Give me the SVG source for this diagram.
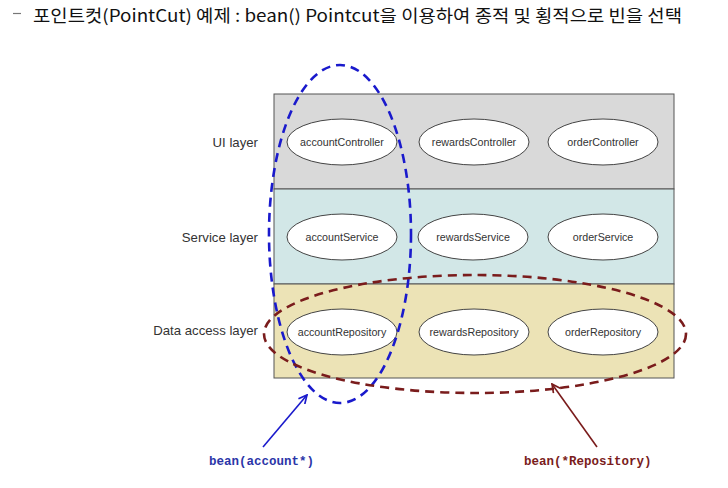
<svg xmlns="http://www.w3.org/2000/svg" width="728" height="488" viewBox="0 0 728 488">
<defs>
<style>
.title{font-family:"Noto Sans CJK KR","Noto Sans",sans-serif;font-size:17px;fill:#111}
.layerlbl{font-family:"Liberation Sans",Arial,sans-serif;font-size:13.2px;fill:#333;text-anchor:end}
.node ellipse{fill:#fff;stroke:#444;stroke-width:1}
.node text{font-family:"Liberation Sans",Arial,sans-serif;font-size:10.7px;fill:#333;text-anchor:middle}
.code{font-family:"Liberation Mono","Courier New",monospace;font-weight:bold;font-size:12.5px}
</style>
<marker id="ahBlue" viewBox="0 0 12 12" refX="11" refY="6" markerWidth="10" markerHeight="10" markerUnits="userSpaceOnUse" orient="auto">
<path d="M1,1 L11,6 L1,11" fill="none" stroke="#1a1acc" stroke-width="2"/>
</marker>
<marker id="ahRed" viewBox="0 0 12 12" refX="11" refY="6" markerWidth="10" markerHeight="10" markerUnits="userSpaceOnUse" orient="auto">
<path d="M1,1 L11,6 L1,11" fill="none" stroke="#7a1c1c" stroke-width="2"/>
</marker>
</defs>
<rect width="728" height="488" fill="#fff"/>
<line x1="13" y1="13.5" x2="21" y2="13.5" stroke="#777" stroke-width="1.2"/>
<text class="title" x="33" y="22" textLength="649" lengthAdjust="spacingAndGlyphs">포인트컷(PointCut) 예제 : bean() Pointcut을 이용하여 종적 및 횡적으로 빈을 선택</text>

<g id="layer-ui">
<rect x="274" y="94" width="400" height="95" fill="#d9d9d9" stroke="#555" stroke-width="1"/>
<text class="layerlbl" x="258" y="147">UI layer</text>
</g>
<g id="layer-service">
<rect x="274" y="189" width="400" height="95" fill="#d2e7e7" stroke="#555" stroke-width="1"/>
<text class="layerlbl" x="258" y="242">Service layer</text>
</g>
<g id="layer-data">
<rect x="274" y="284" width="400" height="94" fill="#ece3b6" stroke="#555" stroke-width="1"/>
<text class="layerlbl" x="258" y="335">Data access layer</text>
</g>

<g id="accountController" class="node"><ellipse cx="342" cy="142" rx="55" ry="23"/><text x="342" y="146">accountController</text></g>
<g id="rewardsController" class="node"><ellipse cx="474" cy="142" rx="55" ry="23"/><text x="474" y="146">rewardsController</text></g>
<g id="orderController" class="node"><ellipse cx="603" cy="142" rx="55" ry="23"/><text x="603" y="146">orderController</text></g>

<g id="accountService" class="node"><ellipse cx="342" cy="237" rx="55" ry="23"/><text x="342" y="241">accountService</text></g>
<g id="rewardsService" class="node"><ellipse cx="473" cy="237" rx="55" ry="23"/><text x="473" y="241">rewardsService</text></g>
<g id="orderService" class="node"><ellipse cx="603" cy="237" rx="55" ry="23"/><text x="603" y="241">orderService</text></g>

<g id="accountRepository" class="node"><ellipse cx="342" cy="332" rx="55" ry="23"/><text x="342" y="336">accountRepository</text></g>
<g id="rewardsRepository" class="node"><ellipse cx="474" cy="332" rx="55" ry="23"/><text x="474" y="336">rewardsRepository</text></g>
<g id="orderRepository" class="node"><ellipse cx="603" cy="332" rx="55" ry="23"/><text x="603" y="336">orderRepository</text></g>

<g id="group-account">
<ellipse cx="340" cy="234" rx="71" ry="169" fill="none" stroke="#1a1acc" stroke-width="2.6" stroke-dasharray="9 6"/>
</g>
<g id="group-repository">
<ellipse cx="475" cy="334" rx="211" ry="59" fill="none" stroke="#7a1c1c" stroke-width="2.6" stroke-dasharray="9 6"/>
</g>

<g id="connectors">
<line x1="263" y1="447" x2="307" y2="395" stroke="#1a1acc" stroke-width="1.6" marker-end="url(#ahBlue)"/>
<line x1="597" y1="447" x2="552" y2="384" stroke="#7a1c1c" stroke-width="1.6" marker-end="url(#ahRed)"/>
</g>

<text class="code" x="209" y="465" fill="#2b35a8">bean(account*)</text>
<text class="code" x="524" y="465" fill="#7a1c1c">bean(*Repository)</text>
</svg>
